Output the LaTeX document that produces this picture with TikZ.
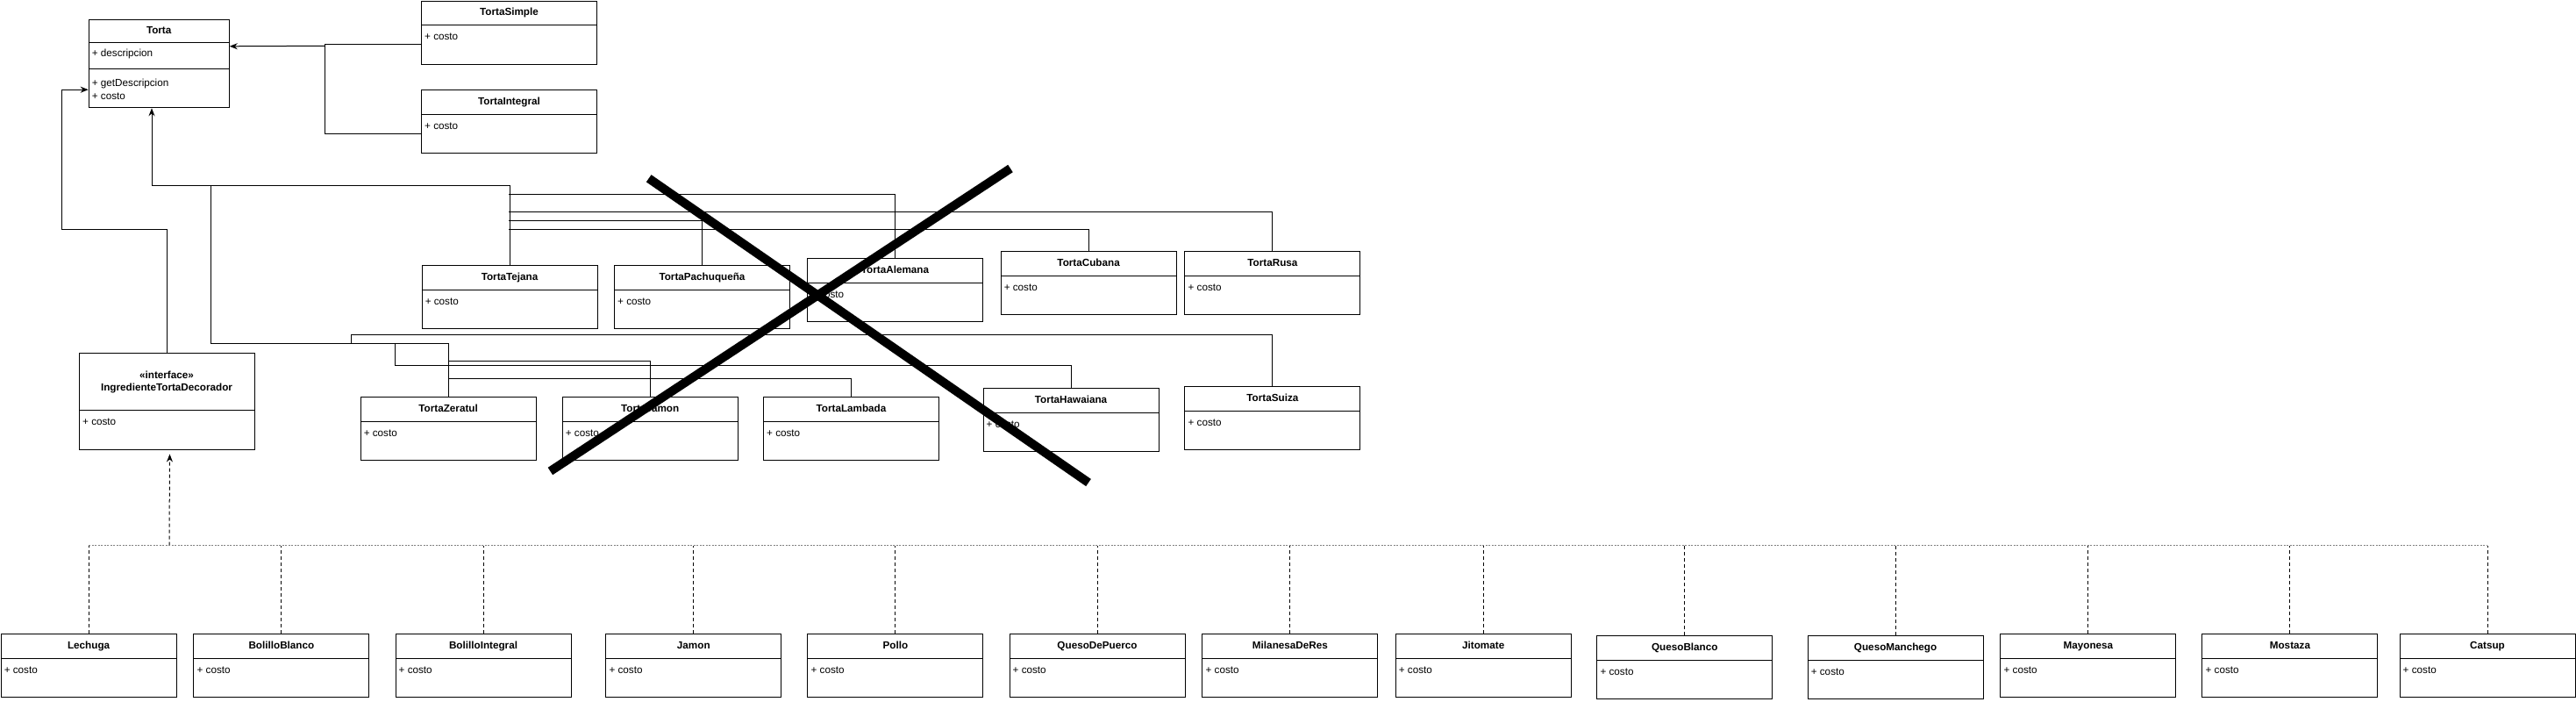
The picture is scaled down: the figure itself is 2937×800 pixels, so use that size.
\documentclass[tikz,border=0pt]{standalone}
\usepackage{fontspec}
\setmainfont{Liberation Sans}
\usetikzlibrary{arrows.meta}
\tikzset{
  classbox/.style={draw, fill=white, line width=1pt, minimum width=200pt, minimum height=72pt, inner sep=0pt, anchor=north west},
  sepline/.style={line width=1pt},
  ctitle/.style={font=\fontsize{11.7}{14}\selectfont\bfseries, inner sep=0pt, text height=8.5pt, text depth=2.5pt},
  cattr/.style={font=\fontsize{11.7}{14}\selectfont, inner sep=0pt, anchor=west, text height=8.5pt, text depth=2.5pt},
  conn/.style={line width=1pt},
  inh/.style={conn, -{Stealth[length=9pt,width=7pt]}},
  real/.style={line width=1pt, dash pattern=on 4pt off 3pt},
  realarrow/.style={real, -{Stealth[length=9pt,width=7pt]}},
  dotline/.style={line width=1.3pt, gray, dash pattern=on 2pt off 1.5pt},
  crossline/.style={line width=10pt, line cap=butt},
}
\newcommand\umlclass[5]{%
  \node[classbox] (#1) at (#2,#3) {};
  \draw[sepline] ([yshift=-28pt]#1.north west) -- ([yshift=-28pt]#1.north east);
  \node[ctitle] (#1-t) at ([yshift=-14pt]#1.north) {#4};
  \node[cattr] (#1-a) at ([xshift=4pt,yshift=-42pt]#1.north west) {#5};
}
\begin{document}
\begin{tikzpicture}[x=1pt,y=-1pt]
\useasboundingbox (0,0) rectangle (2937,800);

% Torta
\node[draw, fill=white, line width=1pt, minimum width=160pt, minimum height=100pt, inner sep=0pt, anchor=north west] (torta) at (100.7,22.3) {};
\draw[sepline] ([yshift=-26pt]torta.north west) -- ([yshift=-26pt]torta.north east);
\draw[sepline] ([yshift=-56pt]torta.north west) -- ([yshift=-56pt]torta.north east);
\node[ctitle] (torta-t) at ([yshift=-13.5pt]torta.north) {Torta};
\node[cattr] (torta-a) at (104.7,62) {+ descripcion};
\node[cattr] (torta-m1) at (104.7,96) {+ getDescripcion};
\node[cattr] (torta-m2) at (104.7,110) {+ costo};

% Interface
\node[draw, fill=white, line width=1pt, minimum width=200pt, minimum height=110pt, inner sep=0pt, anchor=north west] (iface) at (90,402) {};
\draw[sepline] ([yshift=-65pt]iface.north west) -- ([yshift=-65pt]iface.north east);
\node[ctitle] (iface-s) at (190,428) {«interface»};
\node[ctitle] (iface-t) at (190,442) {IngredienteTortaDecorador};
\node[cattr] (iface-a) at (94,481) {+ costo};

% Torta subclasses
\umlclass{ts}{480}{0.6}{TortaSimple}{+ costo}
\umlclass{ti}{480}{102}{TortaIntegral}{+ costo}
\umlclass{tejana}{480.6}{302}{TortaTejana}{+ costo}
\umlclass{pachu}{700}{302}{TortaPachuqueña}{+ costo}
\umlclass{alemana}{920}{294.3}{TortaAlemana}{+ costo}
\umlclass{cubana}{1140.6}{286.3}{TortaCubana}{+ costo}
\umlclass{rusa}{1350.4}{286.3}{TortaRusa}{+ costo}
\umlclass{zeratul}{410.6}{452}{TortaZeratul}{+ costo}
\umlclass{jamonT}{640.7}{452}{TortaJamon}{+ costo}
\umlclass{lambada}{870}{452}{TortaLambada}{+ costo}
\umlclass{hawaiana}{1120.5}{442.3}{TortaHawaiana}{+ costo}
\umlclass{suiza}{1350.4}{440.3}{TortaSuiza}{+ costo}

% Ingredients
\umlclass{lechuga}{0.6}{722.3}{Lechuga}{+ costo}
\umlclass{bblanco}{220.4}{722.3}{BolilloBlanco}{+ costo}
\umlclass{bintegral}{450.5}{722.3}{BolilloIntegral}{+ costo}
\umlclass{jamon}{690.3}{722.3}{Jamon}{+ costo}
\umlclass{pollo}{920.4}{722.3}{Pollo}{+ costo}
\umlclass{qpuerco}{1150.5}{722.3}{QuesoDePuerco}{+ costo}
\umlclass{milanesa}{1370.4}{722.3}{MilanesaDeRes}{+ costo}
\umlclass{jitomate}{1590.7}{722.3}{Jitomate}{+ costo}
\umlclass{qblanco}{1820.3}{724.3}{QuesoBlanco}{+ costo}
\umlclass{qmanchego}{2060.6}{724.3}{QuesoManchego}{+ costo}
\umlclass{mayonesa}{2280.4}{722.3}{Mayonesa}{+ costo}
\umlclass{mostaza}{2510.4}{722.3}{Mostaza}{+ costo}
\umlclass{catsup}{2735.5}{722.3}{Catsup}{+ costo}

% connectors to Torta right side
\coordinate (jr) at (370,52.3);
\draw[conn] ([yshift=-13pt]ts.west) -| (jr);
\draw[conn] ([yshift=-14pt]ti.west) -| (jr);
\draw[inh] (jr) -- ([yshift=20pt]torta.east);

% interface to Torta left side
\coordinate (il) at (70.7,261.7);
\draw[inh] (iface.north) |- (il) |- ([yshift=-29.4pt]torta.west);

% Torta subclasses to Torta bottom
\coordinate (tb) at (173,211.7);
\draw[inh] (tb) -- (tb |- torta.south);
\draw[conn] (tejana.north) |- (tb);
\draw[conn] (alemana.north) |- (580,221.7);
\draw[conn] (rusa.north) |- (580,241.7);
\draw[conn] (pachu.north) |- (580,251.7);
\draw[conn] (cubana.north) |- (580,261.7);

\coordinate (lb) at (240,211.7);
\draw[conn] (zeratul.north) |- (240,391.7) -- (lb);
\draw[conn] (suiza.north) |- (400.5,381.7) -- (400.5,391.7);
\draw[conn] (hawaiana.north) |- (450.4,416.7) -- (450.4,391.7);
\draw[conn] (jamonT.north) |- (510.6,411.7);
\draw[conn] (lambada.north) |- (510.6,431.7);

% realizations
\coordinate (dh) at (193,621.7);
\draw[realarrow] (dh) -- ([xshift=3pt,yshift=-4.5pt]iface.south);
\draw[dotline] (lechuga.north |- dh) -- (catsup.north |- dh);
\foreach \n in {lechuga,bblanco,bintegral,jamon,pollo,qpuerco,milanesa,jitomate,qblanco,qmanchego,mayonesa,mostaza,catsup}{
  \draw[real] (\n.north) -- (\n.north |- dh);
}

% cross
\draw[crossline] (739.7,203.3) -- (1241,550);
\draw[crossline] (1152,192) -- (627.4,537);
\end{tikzpicture}
\end{document}
